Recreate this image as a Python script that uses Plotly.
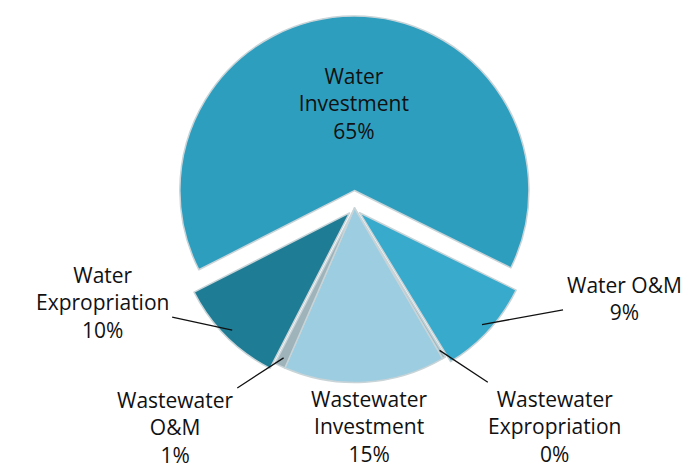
import math
import plotly.graph_objects as go

labels = ["Water<br>Investment", "Water O&M", "Wastewater<br>Expropriation",
          "Wastewater<br>Investment", "Wastewater<br>O&M", "Water<br>Expropriation"]
values = [65, 9, 0.3, 15, 1, 10]

# styling
colors = ["#2e9ebf", "#38aacb", "#9fbcc6", "#9ccde0", "#9fb3ba", "#1f7c95"]
pulls = [0.1, 0.04, 0, 0, 0, 0.04]
positions = ["inside", "none", "none", "none", "none", "none"]
label_offsets = [None, (142, -26), (115, 76), (5, 53), (-108, 70), (-130, -28)]
show_line = [False, True, True, False, True, True]
FONT = dict(family="Open Sans, sans-serif", size=21, color="#111111")
W, H = 693, 472
ROT = -117
dom_x = [100 / W, 593 / W]
dom_y = [80 / H, 464 / H]

fig = go.Figure(go.Pie(
    labels=labels, values=values, sort=False, direction="clockwise",
    rotation=ROT, pull=pulls, domain=dict(x=dom_x, y=dom_y),
    marker=dict(colors=colors, line=dict(color="#c8d4d8", width=1.5)),
    texttemplate="%{label}<br>%{percent:.0%}", textposition=positions,
    insidetextorientation="horizontal",
    textfont=FONT, showlegend=False, hoverinfo="label+percent",
))

# outside labels with leader lines, anchored at each slice's mid-angle
cx = (dom_x[0] + dom_x[1]) / 2 * W
cy = (1 - (dom_y[0] + dom_y[1]) / 2) * H
r = min((dom_x[1] - dom_x[0]) * W, (dom_y[1] - dom_y[0]) * H) / 2 / (1 + max(pulls))
total = sum(values)
cum = 0.0
for lab, v, p, off, line in zip(labels, values, pulls, label_offsets, show_line):
    mid = math.radians(ROT + (cum + v / 2) / total * 360)
    cum += v
    if off is None:
        continue
    rho = r * (0.95 + p)
    px = cx + rho * math.sin(mid)
    py = cy - rho * math.cos(mid)
    pct = round(v / total * 100)
    fig.add_annotation(
        x=px / W, y=1 - py / H, xref="paper", yref="paper",
        text=f"{lab}<br>{pct}%", font=FONT, align="center",
        showarrow=True, arrowhead=0, arrowwidth=1.3,
        arrowcolor="#111111" if line else "rgba(0,0,0,0)",
        ax=off[0], ay=off[1], standoff=0, startstandoff=2,
    )

fig.update_layout(width=W, height=H, margin=dict(l=0, r=0, t=0, b=0),
                  paper_bgcolor="white", plot_bgcolor="white")
fig.write_html("out.html")
